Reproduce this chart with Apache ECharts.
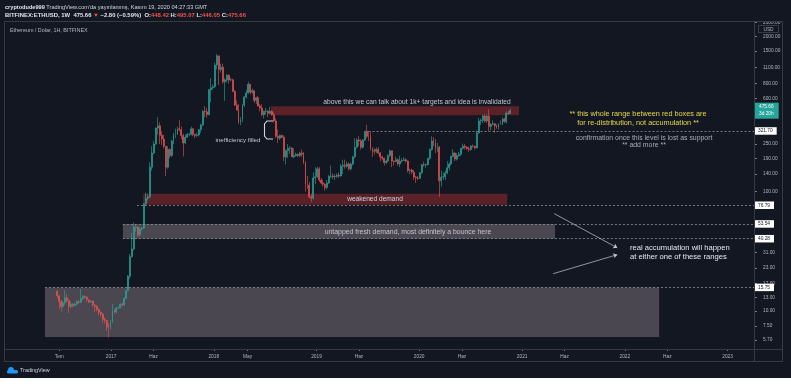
<!DOCTYPE html>
<html><head><meta charset="utf-8">
<script src="https://cdn.jsdelivr.net/npm/echarts@6/dist/echarts.min.js"></script>
<style>html,body{margin:0;padding:0;background:#ffffff}#c{width:791px;height:386px}</style>
</head><body><div id="c"></div><script>
// ---------- data ----------
const firstWeek = '2016-06-20';           // weekly candles, Monday start
// [open, close, low, high]
const weeklyOCLH = [
[14.6,13.4,12.8,15.0],[13.4,12.0,10.4,13.6],[12.0,10.9,9.9,12.3],[10.9,11.7,10.6,12.1],[11.7,12.9,11.2,14.9],[12.9,12.3,11.8,13.8],
[12.3,10.9,9.6,12.5],[10.9,11.4,10.5,12.0],[11.4,11.1,10.7,11.6],[11.1,11.4,10.9,11.7],[11.4,12.0,11.2,12.3],
[12.0,11.8,11.5,12.3],[11.8,12.8,11.6,15.3],[12.8,13.2,12.3,13.6],[13.2,13.0,12.6,13.5],
[13.0,12.4,11.9,13.3],[12.4,11.9,11.6,12.5],[11.9,12.1,11.7,12.3],[12.1,11.2,10.8,12.2],[11.2,10.9,9.8,11.4],
[10.9,10.3,9.9,11.2],[10.3,9.7,9.2,10.5],[9.7,9.4,9.0,9.9],[9.4,8.5,7.9,9.6],
[8.5,8.3,7.8,8.8],[8.3,7.3,6.8,8.4],[7.3,7.2,6.0,7.9],[7.2,8.1,7.0,8.4],
[8.1,10.1,8.0,11.5],[10.1,9.8,9.5,10.4],[9.8,10.6,9.6,10.8],[10.6,10.6,10.4,10.9],[10.6,11.4,10.5,11.6],
[11.4,11.2,10.9,11.7],[11.2,12.8,11.0,13.0],[12.8,14.8,12.6,15.1],[14.8,19.5,14.6,20.0],
[19.5,28.5,18.5,30.0],[28.5,33.0,28.0,45.0],[33.0,50.0,32.0,55.0],[50.0,50.5,46.0,53.5],
[50.5,43.5,41.5,51.0],[43.5,48.5,42.0,50.0],[48.5,49.5,47.0,50.5],[49.5,79.0,48.5,80.0],
[79,88,77,98],[88,90,84,96],[90,160,88,175],[160,210,150,240],[210,250,205,265],
[250,340,245,345],[340,355,300,420],[355,295,250,380],[295,275,245,320],
[275,240,230,300],[240,160,135,240],[160,225,155,240],[225,200,190,230],[200,265,195,270],
[265,297,250,310],[297,300,280,336],[300,335,300,350],[335,330,320,395],
[330,295,275,350],[295,255,197,305],[255,285,250,300],[285,300,280,310],
[300,302,290,310],[302,335,295,350],[335,300,290,340],[300,295,280,305],[295,298,285,310],
[298,330,290,335],[330,360,310,370],[360,470,355,480],[470,465,420,520],
[465,440,415,500],[440,715,435,720],[715,740,560,890],[740,755,710,790],
[755,1150,740,1200],[1150,1370,1050,1420],[1370,1050,780,1370],[1050,1100,990,1180],[1100,830,800,1180],
[830,860,575,890],[860,940,820,960],[940,860,800,960],[860,862,840,900],
[862,690,680,880],[690,530,520,710],[530,480,480,580],[480,380,370,540],
[380,400,360,420],[400,530,380,540],[530,620,510,630],[620,670,600,710],[670,790,660,830],
[790,680,650,800],[680,700,660,730],[700,580,550,700],[580,610,540,620],
[610,520,515,630],[520,500,470,540],[500,440,430,540],[440,470,410,475],
[470,472,440,500],[472,450,420,480],[450,470,440,510],[470,440,430,480],[440,390,380,460],
[390,290,280,410],[290,280,255,330],[280,295,270,300],[295,285,280,300],
[285,195,180,295],[195,220,168,225],[220,230,190,250],[230,232,205,240],
[232,195,195,235],[195,200,190,230],[200,205,196,212],[205,200,195,208],[200,210,195,215],
[210,205,195,225],[205,175,170,215],[175,115,100,180],[115,113,105,135],
[113,90,88,120],[90,88,82,95],[88,130,86,145],[130,133,115,160],[133,155,130,162],
[155,125,120,160],[125,118,115,130],[118,115,110,125],[115,108,102,117],
[108,118,104,125],[118,134,116,138],[134,135,130,165],[135,133,127,142],
[133,134,125,140],[134,137,130,142],[137,135,130,145],[135,163,133,170],
[163,166,140,185],[166,163,155,185],[163,170,158,178],[170,155,150,175],[155,170,150,175],
[170,195,165,200],[195,235,190,280],[235,270,230,280],[270,265,240,290],
[265,235,225,275],[235,270,230,275],[270,320,265,320],[320,290,280,362],
[290,288,265,320],[288,230,220,315],[230,220,195,235],[220,218,205,230],[218,225,210,235],
[225,210,205,235],[210,195,180,215],[195,190,183,200],[190,175,165,192],
[175,180,170,185],[180,200,175,205],[200,220,195,225],[220,180,160,220],[180,178,165,182],
[178,185,177,195],[185,170,165,190],[170,180,160,200],[180,182,175,190],
[182,185,180,195],[185,180,175,190],[180,150,145,182],[150,151,140,155],
[151,145,140,155],[145,132,125,152],[132,130,118,135],[130,129,125,135],[129,144,127,145],
[144,168,140,170],[168,167,162,178],[167,168,158,172],[168,190,165,190],
[190,225,185,230],[225,265,220,290],[265,258,240,285],[258,230,210,275],
[230,235,215,255],[235,123,90,240],[123,132,110,150],[132,133,125,145],[133,143,125,150],
[143,158,140,180],[158,170,150,175],[170,197,165,200],[197,210,193,227],
[210,187,180,215],[187,200,182,210],[200,205,195,215],[205,230,198,232],
[230,240,225,252],[240,235,225,250],[235,228,223,240],[228,225,215,238],[225,240,220,245],
[240,239,233,248],[239,232,226,243],[232,310,230,325],[310,390,305,415],
[390,395,360,410],[395,430,375,440],[430,390,380,445],[390,430,375,440],[430,350,320,490],
[350,365,325,375],[365,370,360,395],[370,355,310,370],[355,345,335,365],
[345,365,330,372],[365,366,360,395],[366,405,360,420],[405,385,375,415],
[385,455,370,470],[455,448.42,440,475],[448.42,475.66,446.05,495.07]
];
const lastPrice = 475.66;
const lastCountdown = '3d 20h';

const yTickValues = [2600,2000,1500,1100,800,600,250,190,140,100,31,23,17,13,10,7.5,5.7];
const xTickDates  = ['2016-07-01','2017-01-01','2017-06-01','2018-01-01','2018-05-01','2019-01-01','2019-06-01','2020-01-01','2020-06-01','2021-01-01','2021-06-01','2022-01-01','2022-06-01','2023-01-01'];
const xTickLabels = ['Tem','2017','Haz','2018','May','2019','Haz','2020','Haz','2021','Haz','2022','Haz','2023'];

const redZones  = [ {from:'2018-07-23', to:'2020-12-21', low:436, high:518},
                    {from:'2017-04-25', to:'2020-11-09', low:77.5, high:96} ];
const grayZones = [ {from:'2017-02-12', to:'2021-04-28', low:40.28, high:53.54},
                    {from:'2016-05-11', to:'2022-05-03', low:6.05, high:15.75} ];
const levelPrices = [321.70, 76.79, 53.54, 40.28, 15.75];
const levelStarts = ['2019-07-05','2017-04-03','2017-02-12','2017-02-12','2016-05-11'];
const arrowFrom = [['2021-04-25',65.3],['2021-04-21',20.5]];
const arrowTo   = [['2021-12-05',33.8],['2021-12-05',29.6]];

// ---------- build ----------
const DAY = 86400000;
const T = s => Date.parse(s + 'T00:00:00Z');
const xMin = T('2015-12-21'), xMax = T('2023-04-05');
const candleShift = 4 * DAY;
const t0 = T(firstWeek);
const candleData = weeklyOCLH.map((r, i) => [t0 + i * 7 * DAY + candleShift, r[0], r[1], r[2], r[3]]);
const xTickVals = xTickDates.map(T);

const FONT = 'Liberation Sans, Arial, sans-serif';
const chart = echarts.init(document.getElementById('c'), null, {renderer:'canvas'});

const zoneItems = [];
redZones.forEach(z => zoneItems.push([{coord:[T(z.from), z.high], itemStyle:{color:'#5a2129'}}, {coord:[T(z.to), z.low]}]));
grayZones.forEach(z => zoneItems.push([{coord:[T(z.from), z.high], itemStyle:{color:'#4a4751'}}, {coord:[T(z.to), z.low]}]));

const levelItems = levelPrices.map((p, i) => [
  {coord:[T(levelStarts[i]), p], label:{formatter: p.toFixed(2)}},
  {coord:[xMax, p]}]);
const arrowItems = arrowFrom.map((a, i) => [{coord:[T(a[0]), a[1]]}, {coord:[T(arrowTo[i][0]), arrowTo[i][1]]}]);

const option = {
  backgroundColor: '#131722',
  animation: false,
  grid: {left: 5, right: 37, top: 22, bottom: 37, containLabel: false},
  xAxis: {
    type: 'value', min: xMin, max: xMax, scale: true,
    axisLine: {show: false}, splitLine: {show: false},
    axisTick: {show: true, customValues: xTickVals, length: 2, lineStyle: {color: '#787b86'}},
    axisLabel: {customValues: xTickVals, color: '#b2b5be', fontSize: 4.8, fontFamily: FONT, margin: 5,
      formatter: v => { for (let i = 0; i < xTickVals.length; i++) if (Math.abs(xTickVals[i] - v) < DAY) return xTickLabels[i]; return ''; }}
  },
  yAxis: {
    type: 'log', logBase: 10, min: 4.8, max: 2630, position: 'right',
    axisLine: {show: false}, splitLine: {show: false},
    axisTick: {show: true, customValues: yTickValues, length: 3, lineStyle: {color: '#787b86'}},
    axisLabel: {customValues: yTickValues, color: '#b2b5be', fontSize: 4.8, fontFamily: FONT, margin: 9,
      formatter: v => Number(v).toFixed(2)}
  },
  series: [
    {type: 'line', data: [], z: 1, silent: true,
     markArea: {silent: true, data: zoneItems}},
    {type: 'candlestick', z: 3, barWidth: 1.4, data: candleData,
     encode: {x: 0, y: [1, 2, 3, 4]},
     itemStyle: {color: '#26a69a', color0: '#ef5350', borderColor: '#26a69a', borderColor0: '#ef5350', borderWidth: 0.6}},
    {type: 'line', data: [], silent: true,
     markLine: {silent: true, symbol: 'none', animation: false,
       lineStyle: {type: [2, 2], color: '#8a8d96', width: 0.8},
       label: {show: true, position: 'end', distance: 1,
         backgroundColor: '#ffffff', color: '#131722', fontSize: 4.8, fontFamily: FONT, padding: [1.5, 4, 1, 3]},
       data: levelItems}},
    {type: 'line', data: [], silent: true,
     markLine: {silent: true, symbol: ['none', 'arrow'], symbolSize: 4, animation: false,
       lineStyle: {type: 'solid', color: '#c8cad0', width: 0.7},
       label: {show: false}, data: arrowItems}},
    {type: 'line', data: [], silent: true,
     markLine: {silent: true, symbol: 'none', animation: false,
       lineStyle: {color: 'rgba(0,0,0,0)', width: 0},
       label: {show: true, position: 'end', distance: 1, formatter: lastPrice.toFixed(2) + '\n' + lastCountdown,
         backgroundColor: '#26a69a', color: '#ffffff', fontSize: 4.8, lineHeight: 7, fontFamily: FONT, padding: [1.5, 5, 0.5, 4]},
       data: [{yAxis: lastPrice}]}}
  ],
  graphic: [
    {type: 'rect', z: 100, shape: {x: 755, y: 12, width: 27, height: 10}, style: {fill: '#131722'}},
    {type: 'rect', z: 100, shape: {x: 0, y: 378, width: 791, height: 8}, style: {fill: '#ffffff'}},
    {type: 'rect', z: 101, shape: {x: 4.5, y: 21.5, width: 778, height: 340}, style: {fill: 'none', stroke: '#363a45', lineWidth: 1}},
    {type: 'line', z: 101, shape: {x1: 754.5, y1: 21.5, x2: 754.5, y2: 361.5}, style: {stroke: '#363a45', lineWidth: 1}},
    {type: 'line', z: 101, shape: {x1: 4.5, y1: 349.5, x2: 782.5, y2: 349.5}, style: {stroke: '#363a45', lineWidth: 1}},
    {type: 'rect', z: 101, shape: {x: 758.5, y: 25.5, width: 20, height: 7}, style: {fill: '#131722', stroke: '#434651', lineWidth: 0.8}},
    {type: 'text', z: 102, x: 768.5, y: 29.3, style: {text: 'USD', fill: '#b2b5be', fontSize: 4.8, fontFamily: FONT, align: 'center', verticalAlign: 'middle'}},
    {type: 'text', z: 102, x: 5, y: 7, style: {text: '{b|cryptodude999} TradingView.com\'da yayınlanmış, Kasım 19, 2020 04:27:33 GMT',
       rich: {b: {fontWeight: 'bold', fill: '#e0e3eb', fontSize: 5.6, fontFamily: FONT}}, fill: '#d1d4dc', fontSize: 5.6, fontFamily: FONT, verticalAlign: 'middle'}},
    {type: 'text', z: 102, x: 5, y: 15.5, style: {text: 'BITFINEX:ETHUSD, 1W  475.66 {r|▼} −2.80 (−0.59%)  O:{r|448.42} H:{r|495.07} L:{r|446.05} C:{r|475.66}',
       rich: {r: {fill: '#ef5350', fontWeight: 'bold', fontSize: 5.9, fontFamily: FONT}}, fill: '#e0e3eb', fontWeight: 'bold', fontSize: 5.9, fontFamily: FONT, verticalAlign: 'middle'}},
    {type: 'text', z: 102, x: 10, y: 31, style: {text: 'Ethereum / Dolar, 1H, BITFINEX', fill: '#b2b5be', fontSize: 5.4, fontFamily: FONT, verticalAlign: 'middle'}},
    {type: 'text', z: 102, x: 417, y: 102, style: {text: 'above this we can talk about 1k+ targets and idea is invalidated', fill: '#c3c6ce', fontSize: 6.7, fontFamily: FONT, align: 'center', verticalAlign: 'middle'}},
    {type: 'text', z: 102, x: 638, y: 118.5, style: {text: '** this whole range between red boxes are\nfor re-distribution, not accumulation **', fill: '#e8d84a', fontSize: 7.3, lineHeight: 9, fontFamily: FONT, align: 'center', verticalAlign: 'middle'}},
    {type: 'text', z: 102, x: 644, y: 141.5, style: {text: 'confirmation once this level is lost as support\n** add more **', fill: '#a9acb5', fontSize: 6.9, lineHeight: 7.5, fontFamily: FONT, align: 'center', verticalAlign: 'middle'}},
    {type: 'text', z: 102, x: 238, y: 140, style: {text: 'inefficiency filled', fill: '#c3c6ce', fontSize: 6.2, fontFamily: FONT, align: 'center', verticalAlign: 'middle'}},
    {type: 'polyline', z: 102, shape: {points: [[273,121],[267,121],[264.5,124],[264.5,136],[267,139],[273,139]]}, style: {stroke: '#d1d4dc', lineWidth: 1.1, fill: 'none'}},
    {type: 'text', z: 102, x: 375, y: 199.5, style: {text: 'weakened demand', fill: '#d1d4dc', fontSize: 6.6, fontFamily: FONT, align: 'center', verticalAlign: 'middle'}},
    {type: 'text', z: 102, x: 408, y: 232.5, style: {text: 'untapped fresh demand, most definitely a bounce here', fill: '#c3c6ce', fontSize: 6.9, fontFamily: FONT, align: 'center', verticalAlign: 'middle'}},
    {type: 'text', z: 102, x: 630, y: 252.5, style: {text: 'real accumulation will happen\nat either one of these ranges', fill: '#e6e8ee', fontSize: 7.6, lineHeight: 9, fontFamily: FONT, verticalAlign: 'middle'}},
    {type: 'circle', z: 102, shape: {cx: 11, cy: 370, r: 3}, style: {fill: '#2196f3'}},
    {type: 'rect', z: 102, shape: {x: 7, y: 370, width: 11, height: 3.5, r: 1.5}, style: {fill: '#2196f3'}},
    {type: 'text', z: 102, x: 20, y: 371, style: {text: 'TradingView', fill: '#d1d4dc', fontSize: 5.4, fontFamily: FONT, verticalAlign: 'middle'}}
  ]
};
chart.setOption(option);
</script></body></html>
